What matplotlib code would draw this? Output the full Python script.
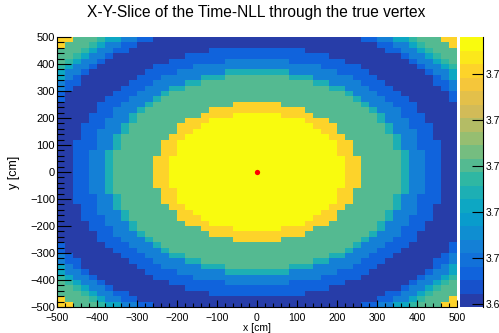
import numpy as np
import matplotlib
matplotlib.use("Agg")
import matplotlib.pyplot as plt
from matplotlib.colors import LinearSegmentedColormap, ListedColormap
from matplotlib.lines import Line2D

plt.rcParams['font.family'] = ['Liberation Sans', 'DejaVu Sans']

# one quarter of the 50x50 histogram, colour level of each bin (0-9, a-j = 10-19)
# row k = k-th bin away from y=0, char k = k-th bin away from x=0
quarter = [
    "jjjjjjjjjjjhhaaaaa8442200",
    "jjjjjjjjjjjhhaaaaa8442200",
    "jjjjjjjjjjjhhaaaaa8442200",
    "jjjjjjjjjjhhaaaaaa8442200",
    "jjjjjjjjjjhhaaaaa84422200",
    "jjjjjjjjjjhhaaaaa84422200",
    "jjjjjjjjjhhaaaaaa84422000",
    "jjjjjjjjhhaaaaaa844422000",
    "jjjjjjjhhhaaaaaa844222000",
    "jjjjjjhhhaaaaaa8444220000",
    "jjjhhhhaaaaaaaa8442220000",
    "hhhhhhaaaaaaaa84442200000",
    "hhhaaaaaaaaaa844422200000",
    "aaaaaaaaaaaa8444222000002",
    "aaaaaaaaaaa84442220000002",
    "aaaaaaaaa8844422200000024",
    "aaaaaaa884444222000000224",
    "aaaa888444442220000000247",
    "8888444444222200000002447",
    "4444444422222000000024479",
    "444422222220000000024479a",
    "22222222200000000024479aa",
    "2222220000000000224479aaa",
    "000000000000000224479aaah",
    "00000000000002244779aaahh",
]
cbar_ticks = [-0.3, 3.16, 6.56, 9.96, 13.36, 16.74]
cbar_labels = ["3.6", "3.7", "3.7", "3.7", "3.7", "3.7"]
vertex = (0, 0)
title = "X-Y-Slice of the Time-NLL through the true vertex"

q = np.array([[int(c, 36) for c in row] for row in quarter])
half = np.vstack([q[::-1], q])
z = np.hstack([half[:, ::-1], half])
edges = np.linspace(-500, 500, 51)

# ROOT kBird palette, 20 contour levels
stops = [0.0, 0.125, 0.25, 0.375, 0.5, 0.625, 0.75, 0.875, 1.0]
red = [0.2082, 0.0592, 0.0780, 0.0232, 0.1802, 0.5301, 0.8186, 0.9956, 0.9764]
green = [0.1664, 0.3599, 0.5041, 0.6419, 0.7178, 0.7492, 0.7328, 0.7862, 0.9832]
blue = [0.5293, 0.8684, 0.8385, 0.7914, 0.6425, 0.4662, 0.3499, 0.1968, 0.0539]
bird = LinearSegmentedColormap.from_list("bird", list(zip(stops, zip(red, green, blue))))
frac = [int((k + 0.99) * 255 / 20) / 254 for k in range(20)]
cmap = ListedColormap(bird(frac))

W, H = 499, 333
fig = plt.figure(figsize=(W / 100, H / 100), dpi=100)
ax = fig.add_axes([57 / W, 26 / H, 400 / W, 270 / H])
mesh = ax.pcolormesh(edges, edges, z, cmap=cmap, vmin=-0.5, vmax=19.5,
                     shading='flat', antialiased=False, linewidth=0)
ax.plot(*vertex, 'o', color='red', markersize=3.8, markeredgewidth=0)

ax.set_xlim(-500, 500)
ax.set_ylim(-500, 500)
ax.set_xticks(np.arange(-500, 501, 100))
ax.set_yticks(np.arange(-500, 501, 100))
ax.set_xticks(np.arange(-500, 501, 20), minor=True)
ax.set_yticks(np.arange(-500, 501, 20), minor=True)
ax.tick_params(axis='x', which='major', direction='in', length=5, width=0.8, labelsize=7.5, pad=4)
ax.tick_params(axis='x', which='minor', direction='in', length=2.8, width=0.8)
ax.tick_params(axis='y', which='major', direction='in', length=10, width=0.8, labelsize=8, pad=1.5)
ax.tick_params(axis='y', which='minor', direction='in', length=5, width=0.8)
for s in ['top', 'right']:
    ax.spines[s].set_visible(False)
for s in ['left', 'bottom']:
    ax.spines[s].set_linewidth(0.8)
ax.set_xlabel("x [cm]", fontsize=7.5, labelpad=0)
ax.set_ylabel("y [cm]", fontsize=9, labelpad=7.5)

cax = fig.add_axes([459.5 / W, 26 / H, 23 / W, 270 / H])
cbar = fig.colorbar(mesh, cax=cax)
cbar.outline.set_visible(False)
cax.add_line(Line2D([1, 1], [0, 1], transform=cax.transAxes, color='black', lw=0.8, clip_on=False))
cbar.set_ticks(cbar_ticks)
cbar.set_ticklabels(cbar_labels)
cax.tick_params(direction='in', length=8, width=0.8, labelsize=7.5, pad=2)
cax.minorticks_off()

fig.text(256 / W, 1 - 12 / H, title, ha='center', va='center', fontsize=11.2)

fig.savefig("out.png", dpi=100)
